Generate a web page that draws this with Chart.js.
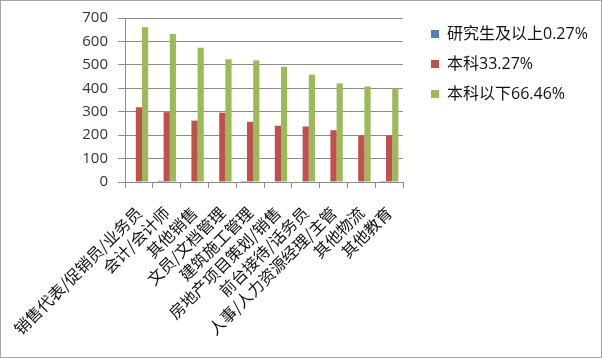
<!DOCTYPE html>
<html>
<head>
<meta charset="utf-8">
<script src="https://cdn.jsdelivr.net/npm/chart.js@4.4.1/dist/chart.umd.min.js"></script>
<style>
  html, body { margin: 0; padding: 0; background: #fff; }
  #wrap { width: 602px; height: 358px; }
</style>
</head>
<body>
<div id="wrap"><canvas id="c" width="602" height="358"></canvas></div>
<script>
const categories = ['销售代表/促销员/业务员', '会计/会计师', '其他销售', '文员/文档管理', '建筑施工管理', '房地产项目策划/销售', '前台接待/话务员', '人事/人力资源经理/主管', '其他物流', '其他教育'];
const seriesNames = ['研究生及以上0.27%', '本科33.27%', '本科以下66.46%'];
const graduate = [0, 5, 0, 0, 4, 0, 0, 0, 0, 4];
const bachelor = [319, 298, 262, 296, 257, 240, 237, 221, 198, 198];
const belowBachelor = [661, 632, 573, 524, 519, 492, 458, 421, 408, 400];
const yTicks = [0, 100, 200, 300, 400, 500, 600, 700];

const colors = ['#4F81BD', '#C0504D', '#9BBB59'];
const gridColor = '#8c8c8c';
const cjk = '"Open Sans", "Noto Sans CJK SC", sans-serif';

const borderPlugin = {
  id: 'outerBorder',
  afterDraw(chart) {
    const ctx = chart.ctx;
    ctx.save();
    ctx.strokeStyle = '#a6a6a6';
    ctx.lineWidth = 1;
    ctx.strokeRect(0.5, 0.5, chart.width - 1, chart.height - 1);
    ctx.restore();
  }
};

new Chart(document.getElementById('c'), {
  type: 'bar',
  data: {
    labels: categories,
    datasets: [
      { label: seriesNames[0], data: graduate, backgroundColor: colors[0] },
      { label: seriesNames[1], data: bachelor, backgroundColor: colors[1] },
      { label: seriesNames[2], data: belowBachelor, backgroundColor: colors[2] }
    ]
  },
  options: {
    responsive: false,
    animation: false,
    devicePixelRatio: 1,
    layout: { padding: { top: 0, left: 0, right: 10, bottom: 0 } },
    datasets: { bar: { categoryPercentage: 0.667, barPercentage: 1.0 } },
    plugins: {
      tooltip: { enabled: false },
      legend: {
        position: 'right',
        align: 'start',
        maxWidth: 175,
        title: { display: true, text: '', font: { size: 1 }, padding: { top: 10.8, bottom: 0 } },
        labels: {
          boxWidth: 8,
          boxHeight: 8,
          padding: 14,
          color: '#111',
          font: { family: cjk, size: 16 }
        }
      }
    },
    scales: {
      x: {
        grid: { display: true, drawOnChartArea: false, drawTicks: true, tickLength: 6, color: gridColor, offset: true },
        border: { display: true, color: gridColor, width: 1 },
        ticks: {
          autoSkip: false,
          minRotation: 45,
          maxRotation: 45,
          padding: 15,
          color: '#111',
          font: { family: '"Noto Sans CJK SC", sans-serif', size: 16 }
        },
        afterFit(s) { s.height = 176; s.paddingLeft = 0; s.paddingRight = 0; }
      },
      y: {
        min: 0,
        max: 700,
        afterBuildTicks(s) { s.ticks = yTicks.map(v => ({ value: v })); },
        grid: { color: gridColor, lineWidth: 1, drawTicks: true, tickLength: 7 },
        border: { display: true, color: gridColor, width: 1 },
        ticks: {
          padding: 10,
          color: '#333',
          font: { family: '"Open Sans", sans-serif', size: 15 }
        },
        afterFit(s) { s.width = 125; s.paddingTop = 18; s.paddingBottom = 0; }
      },
      gap: {
        type: 'linear',
        position: 'right',
        display: true,
        min: 0,
        max: 1,
        grid: { display: false, drawTicks: false },
        border: { display: false },
        ticks: { display: false },
        afterFit(s) { s.width = 14; s.paddingTop = 0; s.paddingBottom = 0; }
      }
    }
  },
  plugins: [borderPlugin]
});
</script>
</body>
</html>
